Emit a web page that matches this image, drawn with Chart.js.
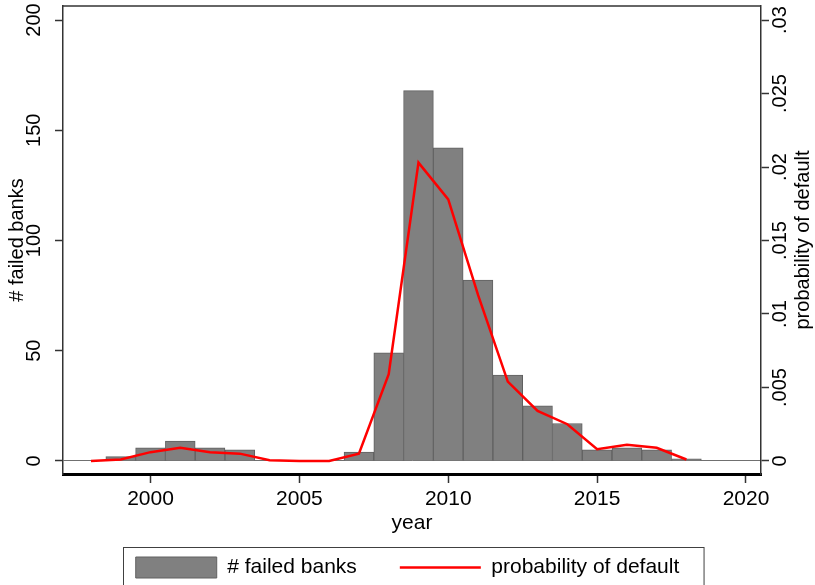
<!DOCTYPE html>
<html><head><meta charset="utf-8">
<script src="https://cdn.jsdelivr.net/npm/chart.js@4.4.1/dist/chart.umd.min.js"></script>
<style>html,body{margin:0;padding:0;background:#fff;}</style>
</head><body>
<canvas id="c" width="815" height="585"></canvas>
<script>
// ---- data ----
const barYears = [1999, 2000, 2001, 2002, 2003, 2004, 2005, 2006, 2007, 2008, 2009, 2010, 2011, 2012, 2013, 2014, 2015, 2016, 2017, 2018];
const failedBanks = [2, 6, 9, 6, 5, 0, 0, 0, 4, 49, 168, 142, 82, 39, 25, 17, 5, 6, 5, 1];
const podYears = [1998, 1999, 2000, 2001, 2002, 2003, 2004, 2005, 2006, 2007, 2008, 2009, 2010, 2011, 2012, 2013, 2014, 2015, 2016, 2017, 2018];
const podValues = [0, 0.0001, 0.0006, 0.0009, 0.0006, 0.0005, 0.00005, 0, 0, 0.0005, 0.0059, 0.0203, 0.0178, 0.0113, 0.0054, 0.0034, 0.0025, 0.0008, 0.0011, 0.0009, 0.0001];
const xTickValues = [2000, 2005, 2010, 2015, 2020];
const xTickLabels = ['2000', '2005', '2010', '2015', '2020'];
const leftTickValues = [0, 50, 100, 150, 200];
const leftTickLabels = ['0', '50', '100', '150', '200'];
const rightTickValues = [0, 0.005, 0.01, 0.015, 0.02, 0.025, 0.03];
const rightTickLabels = ['0', '.005', '.01', '.015', '.02', '.025', '.03'];
const barLabel = '# failed banks';
const lineLabel = 'probability of default';
const xTitle = 'year';
const leftTitle = '# failed banks';
const rightTitle = 'probability of default';

const FONT = "'Liberation Sans', Arial, sans-serif";
const INK = '#000';
const AXIS = '#333';

const rightTitlePlugin = {
  id: 'rightTitle',
  afterDraw(chart) {
    const ctx = chart.ctx, a = chart.chartArea;
    ctx.save();
    ctx.font = '20px ' + FONT;
    ctx.fillStyle = INK;
    ctx.textAlign = 'center';
    ctx.textBaseline = 'middle';
    ctx.translate(803, (a.top + a.bottom) / 2);
    ctx.rotate(-Math.PI / 2);
    ctx.fillText(rightTitle, 0, 0);
    ctx.restore();
  }
};
const framePlugin = {
  id: 'frame',
  afterDraw(chart) {
    const ctx = chart.ctx, a = chart.chartArea;
    ctx.save();
    ctx.strokeStyle = AXIS;
    ctx.lineWidth = 1.5;
    ctx.beginPath();
    ctx.moveTo(a.left, a.top);
    ctx.lineTo(a.right, a.top);
    ctx.stroke();
    // legend outline
    const lg = chart.legend;
    if (lg && lg.legendHitBoxes && lg.legendHitBoxes.length) {
      const hb = lg.legendHitBoxes;
      const l = hb[0].left - 13;
      const r = hb[hb.length - 1].left + hb[hb.length - 1].width + 24;
      const t = lg.top - 2;
      ctx.strokeStyle = '#404040';
      ctx.lineWidth = 1;
      ctx.strokeRect(Math.round(l) + 0.5, Math.round(t) + 0.5, r - l, 80);
    }
    ctx.restore();
  }
};

new Chart(document.getElementById('c'), {
  type: 'bar',
  data: {
    datasets: [
      {
        type: 'bar', label: barLabel,
        data: barYears.map((x, i) => ({ x: x, y: failedBanks[i] })),
        xAxisID: 'x', yAxisID: 'y',
        backgroundColor: '#808080', borderColor: '#606060', borderWidth: 1,
        barPercentage: 1, categoryPercentage: 1, order: 1
      },
      {
        type: 'line', label: lineLabel,
        data: podYears.map((x, i) => ({ x: x, y: podValues[i] })),
        xAxisID: 'x', yAxisID: 'y1',
        borderColor: '#ff0000', backgroundColor: '#ff0000', borderWidth: 2.5,
        pointRadius: 0, tension: 0, order: 0
      }
    ]
  },
  options: {
    responsive: false, animation: false,
    layout: { padding: { top: 6, left: 0, right: 0, bottom: -3 } },
    plugins: {
      tooltip: { enabled: false },
      legend: {
        position: 'bottom',
        labels: {
          usePointStyle: true, pointStyleWidth: 81, boxHeight: 22, padding: 8,
          font: { family: FONT, size: 21 }, color: INK,
          generateLabels(chart) {
            const items = Chart.defaults.plugins.legend.labels.generateLabels(chart);
            items.sort((a, b) => a.datasetIndex - b.datasetIndex);
            items.forEach(it => {
              if (it.datasetIndex === 0) {
                it.pointStyle = 'rect'; it.fillStyle = '#808080'; it.strokeStyle = '#606060'; it.lineWidth = 1;
                it.text = it.text + '      ';
              } else {
                it.pointStyle = 'line'; it.strokeStyle = '#ff0000'; it.lineWidth = 2.5;
              }
            });
            return items;
          }
        }
      }
    },
    scales: {
      x: {
        type: 'linear', position: 'bottom', min: 1997.061, max: 2020.504, offset: false,
        afterBuildTicks: s => { s.ticks = xTickValues.map(v => ({ value: v })); },
        ticks: { autoSkip: false, minRotation: 0, maxRotation: 0, padding: 4, font: { family: FONT, size: 21 }, color: INK,
                 callback: (v, i) => xTickLabels[i] },
        grid: { drawOnChartArea: false, drawTicks: true, tickLength: 9, tickColor: AXIS, tickWidth: 1.5, offset: false },
        border: { display: true, color: '#000', width: 3 },
        title: { display: true, text: xTitle, font: { family: FONT, size: 21 }, color: INK, padding: { top: 0, bottom: 13 } },
        afterFit: s => { s.height = 75; s.paddingLeft = 0; s.paddingRight = 0; }
      },
      y: {
        type: 'linear', position: 'left', min: -5.91, max: 206.36,
        afterBuildTicks: s => { s.ticks = leftTickValues.map(v => ({ value: v })); },
        ticks: { autoSkip: false, minRotation: 90, maxRotation: 90, crossAlign: 'center', padding: 4,
                 font: { family: FONT, size: 20 }, color: INK, callback: (v, i) => leftTickLabels[i] },
        grid: { drawOnChartArea: true, drawTicks: true, tickLength: 8, tickColor: AXIS, tickWidth: 1.5, lineWidth: 1,
                color: c => (c.tick && c.tick.value === 0) ? '#707070' : 'rgba(0,0,0,0)' },
        border: { display: true, color: AXIS, width: 1.5 },
        title: { display: true, text: leftTitle, font: { family: FONT, size: 20 }, color: INK, padding: { top: 5, bottom: 0 } },
        afterFit: s => { s.width = 63; s.paddingTop = 0; s.paddingBottom = 0; }
      },
      y1: {
        type: 'linear', position: 'right', min: -0.000886, max: 0.030955,
        afterBuildTicks: s => { s.ticks = rightTickValues.map(v => ({ value: v })); },
        ticks: { autoSkip: false, minRotation: 90, maxRotation: 90, crossAlign: 'center', padding: -8,
                 font: { family: FONT, size: 20 }, color: INK, callback: (v, i) => rightTickLabels[i] },
        grid: { drawOnChartArea: false, drawTicks: true, tickLength: 8, tickColor: AXIS, tickWidth: 1.5 },
        border: { display: true, color: AXIS, width: 1.5 },
        afterFit: s => { s.width = 54; s.paddingTop = 0; s.paddingBottom = 0; }
      }
    }
  },
  plugins: [rightTitlePlugin, framePlugin]
});
</script>
</body></html>
